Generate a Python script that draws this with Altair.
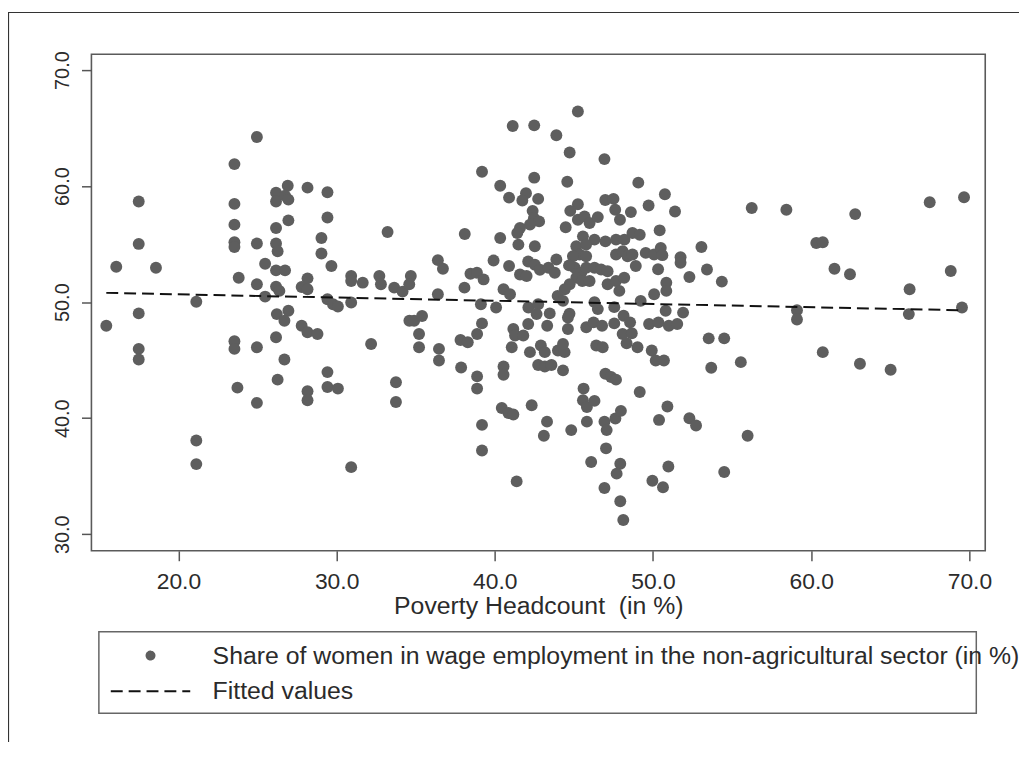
import altair as alt
import pandas as pd

# ---------------- data ----------------
S_LABEL = "Share of women in wage employment in the non-agricultural sector (in %)"
F_LABEL = "Fitted values"
X_TITLE = "Poverty Headcount \u00a0(in %)"

x_ticks = [20, 30, 40, 50, 60, 70]
y_ticks = [30, 40, 50, 60, 70]

# left part of the cloud (poverty < 34)
left_x = [24.96, 23.54, 17.49, 17.49, 16.07, 18.58, 17.49, 21.13,
          23.54, 23.54, 23.54, 23.54, 23.81, 24.96, 25.48, 24.96, 25.48,
          26.17, 26.17, 26.91, 26.74, 26.95, 26.95, 26.17, 26.17, 26.27, 26.17, 26.74, 26.17, 26.38,
          28.16, 29.42, 29.42, 29.04, 29.04, 29.67, 28.16, 27.79, 28.16, 29.42, 29.77, 30.08,
          30.92, 30.92, 31.65, 32.70, 32.80, 33.64, 33.22, 30.92,
          15.44, 17.49, 17.49, 21.13, 21.13, 23.54, 23.54, 23.73, 24.96, 24.96,
          26.22, 26.95, 26.70, 26.17, 26.70, 26.27, 27.79, 28.16, 28.79, 28.16, 28.16, 29.42, 29.42, 30.08, 30.92, 32.18]
left_y = [64.24, 61.90, 58.67, 55.02, 53.05, 52.96, 49.03, 50.03,
          58.47, 56.68, 55.16, 54.76, 52.11, 55.05, 53.31, 51.54, 50.48,
          59.44, 58.67, 60.04, 59.18, 58.84, 57.05, 56.39, 55.05, 54.39, 52.74, 52.74, 51.34, 50.97,
          59.87, 59.47, 57.30, 55.53, 54.19, 53.11, 52.05, 51.31, 51.11, 50.25, 49.82, 49.62,
          52.25, 51.82, 51.68, 52.25, 51.54, 51.25, 56.05, 49.97,
          47.97, 45.97, 45.06, 38.07, 36.04, 46.63, 45.97, 42.63, 46.11, 41.32,
          48.97, 49.26, 48.40, 46.97, 45.06, 43.32, 47.97, 47.40, 47.26, 42.32, 41.55, 43.97, 42.69, 42.55, 35.78, 46.40]

# upper centre of the cloud (poverty 34-52, share above 48.5)
mid_x = [34.17, 34.69, 34.59, 36.40, 36.72, 36.40, 38.10, 38.46, 38.08,
         41.13, 42.49, 43.89, 44.73, 46.93, 39.19, 42.49, 44.58, 49.07, 40.34,
         40.90, 41.97, 41.74, 42.74, 50.75, 45.25, 44.77, 46.98, 47.50, 47.61,
         48.60, 49.72, 51.39, 42.39, 42.47, 42.80, 42.22, 45.25, 45.67, 45.99,
         46.51, 47.91, 44.48, 41.59, 41.42, 40.34, 41.49, 42.53, 45.57, 46.30,
         46.99, 47.66, 48.19, 48.70, 49.16, 50.42, 45.15, 45.77, 45.36, 45.77,
         44.94, 47.66, 48.08, 48.39, 48.70, 49.54, 50.07, 50.49, 50.59, 48.91,
         50.32, 50.84, 50.84, 39.92, 40.90, 42.11, 42.53, 42.85, 43.39, 43.89,
         43.79, 45.05, 45.46, 45.78, 46.30, 46.72, 47.13, 41.59, 42.01, 40.55,
         40.96, 45.15, 44.73, 44.42, 45.53, 45.99, 47.13, 47.66, 48.18, 47.87,
         50.07, 43.97, 44.31, 46.30, 49.22, 38.87, 39.29, 44.69, 45.25,
         39.12, 40.08, 42.12, 42.74, 43.47, 42.64, 46.51, 47.55, 50.80, 44.72]
mid_y = [50.91, 52.25, 51.54, 53.62, 52.88, 50.68, 55.87, 52.45, 51.25,
         65.18, 65.24, 64.38, 62.90, 62.33, 61.24, 60.73, 60.38, 60.30, 60.04,
         59.01, 59.39, 58.76, 58.90, 59.30, 58.44, 57.87, 58.81, 58.90, 57.96,
         57.76, 58.33, 57.82, 57.87, 57.24, 56.96, 56.68, 57.10, 57.39, 56.82,
         57.33, 57.10, 56.45, 56.39, 55.96, 55.53, 54.96, 54.82, 55.67, 55.39,
         55.24, 55.39, 55.39, 55.96, 55.81, 56.19, 54.82, 54.96, 54.11, 53.96,
         53.96, 54.11, 54.39, 53.96, 54.11, 54.25, 54.11, 54.68, 54.05, 53.11,
         52.83, 51.68, 50.97, 53.59, 53.11, 53.50, 53.22, 52.79, 52.96, 53.67,
         52.53, 52.96, 52.53, 52.96, 52.96, 52.82, 52.67, 52.39, 52.25, 51.11,
         50.68, 52.10, 51.54, 51.11, 51.82, 51.82, 51.54, 51.82, 52.11, 50.97,
         50.68, 50.54, 50.11, 50.00, 50.11, 52.53, 51.96, 53.17, 66.44,
         49.82, 49.54, 49.54, 49.82, 49.03, 48.97, 49.40, 49.57, 49.26, 49.00]

# lower centre of the cloud (share below 48.5)
low_x = [33.75, 33.75, 34.60, 34.90, 35.40, 35.21, 35.21, 36.47, 36.47, 37.83, 38.29, 37.87,
         38.88, 39.19, 38.88, 38.88, 39.19, 39.19, 40.55, 40.55, 40.44, 40.86, 41.17, 41.38,
         41.17, 41.28, 41.07, 41.80, 42.11, 42.22, 42.33, 42.91, 43.16, 42.74, 43.16, 43.58,
         43.31, 43.99, 44.41, 44.31, 44.31, 43.30, 43.10, 44.83, 44.62, 44.62, 46.09, 45.61,
         45.57, 45.82, 46.30, 45.82, 45.78, 46.24, 46.78, 46.41, 46.82, 46.99, 47.35, 47.66,
         46.93, 47.07, 47.62, 47.97, 47.03, 46.93, 47.93, 47.70, 47.93, 48.12, 47.55, 48.14,
         48.55, 48.08, 48.66, 48.33, 49.02, 49.16, 49.75, 50.34, 51.00, 51.53, 49.92, 50.17,
         50.69, 50.91, 50.38, 50.97, 49.96, 50.63]
low_y = [43.10, 41.40, 48.40, 48.40, 48.80, 47.26, 46.12, 45.97, 44.97, 46.74, 46.54, 44.37,
         47.26, 48.17, 43.60, 42.55, 39.42, 37.22, 44.45, 43.74, 40.88, 40.45, 40.31, 34.55,
         47.69, 47.12, 46.12, 47.12, 48.12, 45.69, 41.11, 46.26, 45.69, 44.59, 44.45, 44.59,
         47.97, 45.83, 45.69, 46.40, 44.12, 39.70, 38.48, 38.97, 48.68, 47.69, 36.22, 42.55,
         41.55, 40.97, 41.49, 39.70, 47.83, 48.26, 47.97, 46.26, 46.12, 43.83, 43.55, 43.32,
         39.70, 38.97, 39.97, 40.63, 37.40, 33.98, 36.07, 35.22, 32.84, 31.22, 48.17, 48.83,
         48.26, 47.26, 47.32, 46.46, 46.12, 42.26, 48.11, 48.26, 47.97, 48.11, 45.83, 44.97,
         44.97, 41.00, 39.85, 35.84, 34.61, 34.04]

# right part of the cloud (poverty > 51.5)
right_x = [51.74, 51.74, 51.90, 53.06, 52.30, 53.41, 54.35, 56.24, 58.43, 62.78, 67.49, 69.66,
           60.32, 60.73, 61.47, 62.45, 68.82, 66.22, 59.10, 59.10, 66.17, 69.53, 53.52, 54.50,
           53.68, 55.55, 60.73, 63.08, 65.02, 52.30, 52.72, 55.98, 54.50]
right_y = [53.88, 53.40, 49.10, 54.76, 52.17, 52.82, 51.77, 58.11, 57.96, 57.59, 58.61, 59.04,
           55.10, 55.16, 52.88, 52.40, 52.68, 51.11, 49.30, 48.50, 48.97, 49.54, 46.88, 46.88,
           44.34, 44.83, 45.69, 44.69, 44.17, 40.00, 39.37, 38.49, 35.36]

# fitted values (end points of the dashed line)
fit_x = [15.44, 69.50]
fit_y = [50.80, 49.30]

# ---------------- chart ----------------
poverty = left_x + mid_x + low_x + right_x
share = left_y + mid_y + low_y + right_y
pts = pd.DataFrame({"x": poverty, "y": share, "series": S_LABEL})
fit = pd.DataFrame({"x": fit_x, "y": fit_y, "series": F_LABEL})
deco = pd.DataFrame({"k": [0]})

FONT = "Liberation Sans"
dom = [S_LABEL, F_LABEL]

leg = alt.Legend(
    title=None, orient="none", legendX=7, legendY=581, direction="vertical",
    padding=12, rowPadding=10,
    symbolSize=64, symbolStrokeWidth=2, symbolOffset=28,
    labelOffset=50, labelFont=FONT, labelFontSize=25, labelColor="#2b2b2b",
    labelLimit=3000,
)

color = alt.Color("series:N", scale=alt.Scale(domain=dom, range=["#5e5e5e", "#111111"]), legend=leg)
shape = alt.Shape("series:N", scale=alt.Scale(domain=dom, range=["circle", "M-10,0H10"]), legend=leg)
dash = alt.StrokeDash("series:N", scale=alt.Scale(domain=dom, range=[[1, 0], [12, 6]]), legend=leg)

xscale = alt.Scale(domain=[14.5, 71.0], nice=False, zero=False)
yscale = alt.Scale(domain=[28.57, 71.37], nice=False, zero=False)

xax = alt.Axis(
    values=x_ticks, format=".1f", title=X_TITLE, grid=False, domain=False,
    labelFont=FONT, labelFontSize=23, labelColor="#2b2b2b", labelPadding=10,
    tickSize=10, tickColor="#555555", tickWidth=1.5,
    titleFont=FONT, titleFontSize=25, titleFontWeight="normal", titleColor="#2b2b2b",
    titleBaseline="alphabetic", titleY=63.5,
)
yax = alt.Axis(
    values=y_ticks, format=".1f", title=None, grid=False, domain=False,
    labelFont=FONT, labelFontSize=20, labelColor="#2b2b2b", labelAngle=270,
    labelAlign="center", labelBaseline="alphabetic", labelPadding=13,
    tickSize=10, tickColor="#555555", tickWidth=1.5,
)

points = alt.Chart(pts).mark_point(filled=True, size=144, opacity=1).encode(
    x=alt.X("x:Q", scale=xscale, axis=xax),
    y=alt.Y("y:Q", scale=yscale, axis=yax),
    color=color,
    shape=shape,
)

line = alt.Chart(fit).mark_line(strokeWidth=2).encode(
    x="x:Q", y="y:Q", color=color, strokeDash=dash,
)

# decorations: outer figure border and the legend frame
border_top = alt.Chart(deco).mark_rule(color="#333333", strokeWidth=1.2).encode(
    x=alt.value(-84), x2=alt.value(1000), y=alt.value(-42))
border_left = alt.Chart(deco).mark_rule(color="#333333", strokeWidth=1.2).encode(
    x=alt.value(-83.5), y=alt.value(-42), y2=alt.value(800))
legend_box = alt.Chart(deco).mark_rect(fill="transparent", stroke="#666666", strokeWidth=1.5).encode(
    x=alt.value(7.5), x2=alt.value(891), y=alt.value(581.5), y2=alt.value(663.5))

chart = alt.layer(points, line, border_top, border_left, legend_box).properties(
    width=900, height=500,
    autosize=alt.AutoSizeParams(type="none"),
    padding={"left": 84, "top": 44, "right": 34, "bottom": 190},
    background="white",
).configure_view(
    stroke="#5a5a5a", strokeWidth=1.6,
)

chart.save("out.html", embed_options={"renderer": "svg", "actions": False})
